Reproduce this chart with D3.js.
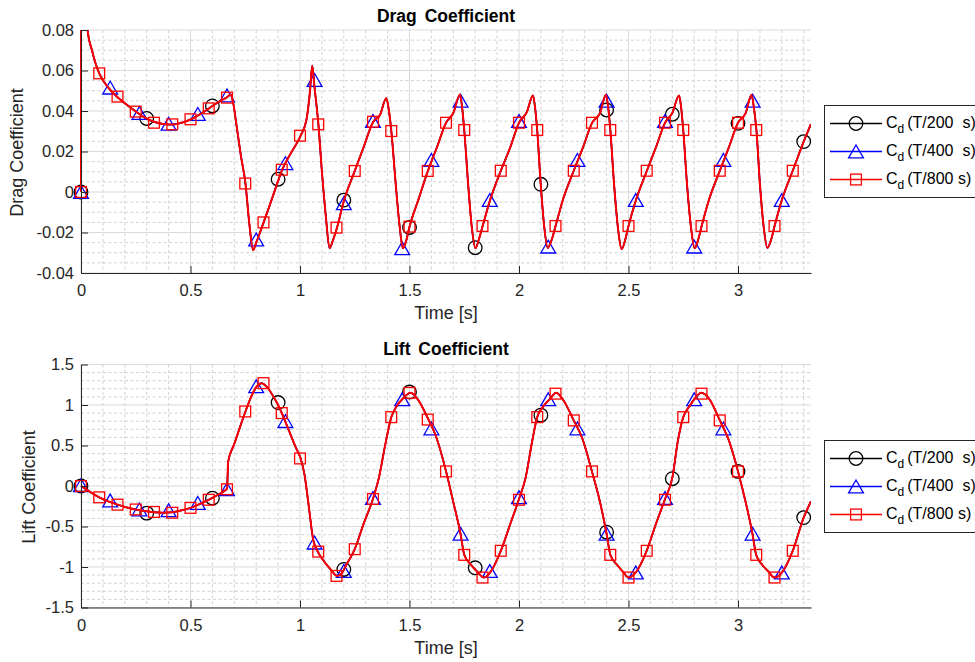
<!DOCTYPE html>
<html>
<head>
<meta charset="utf-8">
<script src="https://cdn.jsdelivr.net/npm/d3@7"></script>
<style>
  body { margin: 0; background: #ffffff; }
  svg  { display: block; font-family: "Liberation Sans", Arial, Helvetica, sans-serif; }
</style>
</head>
<body>
<svg id="fig" width="975" height="662"></svg>
<script>
// ---------- data ----------
const xTickVals   = [0, 0.5, 1, 1.5, 2, 2.5, 3];
const xTickLabels = ["0", "0.5", "1", "1.5", "2", "2.5", "3"];

const cdTickVals   = [-0.04, -0.02, 0, 0.02, 0.04, 0.06, 0.08];
const cdTickLabels = ["-0.04", "-0.02", "0", "0.02", "0.04", "0.06", "0.08"];
const clTickVals   = [-1.5, -1, -0.5, 0, 0.5, 1, 1.5];
const clTickLabels = ["-1.5", "-1", "-0.5", "0", "0.5", "1", "1.5"];

const seriesNames = ["(T/200  s)", "(T/400  s)", "(T/800 s)"];

// drag coefficient time history (curve vertices)
const cdLineT = [0, 0.001, 0.008, 0.018, 0.03, 0.05, 0.065, 0.083, 0.125, 0.167, 0.21, 0.25, 0.29, 0.333, 0.375, 0.417, 0.46, 0.5, 0.54, 0.583, 0.625, 0.667, 0.684, 0.695, 0.71, 0.73, 0.751, 0.768, 0.786, 0.8, 0.834, 0.87, 0.9, 0.918, 0.96, 1.003, 1.03, 1.045, 1.056, 1.066, 1.084, 1.1, 1.118, 1.135, 1.15, 1.169, 1.2, 1.25, 1.29, 1.334, 1.365, 1.394, 1.405, 1.417, 1.437, 1.455, 1.47, 1.485, 1.5, 1.54, 1.584, 1.625, 1.667, 1.7, 1.731, 1.74, 1.75, 1.767, 1.785, 1.801, 1.815, 1.834, 1.868, 1.917, 1.96, 2.0, 2.035, 2.064, 2.073, 2.083, 2.099, 2.116, 2.131, 2.148, 2.167, 2.2, 2.25, 2.292, 2.334, 2.37, 2.397, 2.407, 2.417, 2.434, 2.452, 2.469, 2.484, 2.5, 2.534, 2.584, 2.625, 2.667, 2.7, 2.731, 2.74, 2.75, 2.767, 2.786, 2.802, 2.817, 2.834, 2.867, 2.917, 2.958, 3.0, 3.035, 3.062, 3.072, 3.084, 3.1, 3.118, 3.134, 3.15, 3.167, 3.2, 3.25, 3.3, 3.333];
const cdLineV = [0, 0.25, 0.14, 0.10, 0.08, 0.070, 0.064, 0.0586, 0.0515, 0.0468, 0.0430, 0.0398, 0.0368, 0.0347, 0.0336, 0.0333, 0.0342, 0.0358, 0.0382, 0.0412, 0.0443, 0.0468, 0.0482, 0.044, 0.033, 0.018, 0.0042, -0.015, -0.0287, -0.025, -0.015, -0.004, 0.0055, 0.0108, 0.0195, 0.0278, 0.036, 0.049, 0.0624, 0.052, 0.0334, 0.010, -0.012, -0.0278, -0.024, -0.0176, -0.0045, 0.0104, 0.022, 0.0346, 0.038, 0.0463, 0.041, 0.0301, 0.004, -0.017, -0.0278, -0.024, -0.0172, -0.004, 0.0104, 0.022, 0.0342, 0.039, 0.0482, 0.042, 0.0306, 0.005, -0.018, -0.0278, -0.024, -0.0168, -0.004, 0.0105, 0.022, 0.0342, 0.0393, 0.0476, 0.042, 0.0306, 0.004, -0.018, -0.0276, -0.024, -0.0168, -0.004, 0.0105, 0.022, 0.0342, 0.039, 0.048, 0.042, 0.0306, 0.004, -0.018, -0.0282, -0.024, -0.0168, -0.004, 0.0105, 0.022, 0.0342, 0.039, 0.0476, 0.042, 0.0306, 0.004, -0.018, -0.0278, -0.024, -0.0168, -0.004, 0.0105, 0.022, 0.0342, 0.039, 0.048, 0.042, 0.0306, 0.004, -0.018, -0.0276, -0.024, -0.0168, -0.004, 0.0105, 0.0249, 0.0335];

// lift coefficient time history (curve vertices)
const clLineT = [0, 0.04, 0.083, 0.125, 0.167, 0.21, 0.25, 0.29, 0.333, 0.375, 0.417, 0.46, 0.5, 0.54, 0.583, 0.625, 0.655, 0.667, 0.672, 0.7, 0.725, 0.751, 0.78, 0.8, 0.825, 0.85, 0.875, 0.9, 0.917, 0.95, 0.98, 1.003, 1.02, 1.04, 1.06, 1.083, 1.11, 1.14, 1.17, 1.19, 1.21, 1.25, 1.29, 1.333, 1.36, 1.39, 1.417, 1.44, 1.47, 1.505, 1.54, 1.583, 1.62, 1.667, 1.7, 1.733, 1.75, 1.78, 1.81, 1.84, 1.87, 1.917, 1.96, 2.0, 2.03, 2.06, 2.083, 2.11, 2.14, 2.17, 2.2, 2.25, 2.29, 2.333, 2.37, 2.4, 2.417, 2.45, 2.475, 2.5, 2.535, 2.583, 2.625, 2.667, 2.7, 2.725, 2.75, 2.78, 2.8, 2.833, 2.87, 2.917, 2.96, 3.0, 3.035, 3.066, 3.083, 3.11, 3.14, 3.167, 3.2, 3.25, 3.3, 3.333];
const clLineV = [0, -0.07, -0.14, -0.19, -0.23, -0.265, -0.29, -0.31, -0.325, -0.33, -0.325, -0.30, -0.27, -0.225, -0.17, -0.11, -0.06, -0.03, 0.30, 0.52, 0.72, 0.92, 1.12, 1.22, 1.27, 1.22, 1.12, 1.00, 0.90, 0.68, 0.48, 0.34, 0.15, -0.25, -0.66, -0.82, -0.93, -1.03, -1.11, -1.08, -0.98, -0.78, -0.47, -0.16, 0.10, 0.52, 0.85, 0.98, 1.08, 1.15, 1.06, 0.84, 0.62, 0.18, -0.20, -0.59, -0.85, -0.97, -1.06, -1.13, -1.06, -0.80, -0.47, -0.16, 0.10, 0.55, 0.85, 0.98, 1.07, 1.15, 1.07, 0.81, 0.58, 0.18, -0.20, -0.59, -0.85, -0.98, -1.06, -1.13, -1.06, -0.80, -0.47, -0.16, 0.10, 0.55, 0.85, 0.99, 1.07, 1.15, 1.07, 0.81, 0.55, 0.18, -0.20, -0.59, -0.85, -0.97, -1.06, -1.13, -1.07, -0.80, -0.39, -0.19];

// marker sample times of each time step
const t200 = [0, 0.3, 0.6, 0.9, 1.2, 1.5, 1.8, 2.1, 2.4, 2.7, 3.0, 3.3];
const t400 = [0, 0.1333, 0.2667, 0.4, 0.5333, 0.6667, 0.8, 0.9333, 1.0667, 1.2, 1.3333, 1.4667, 1.6, 1.7333, 1.8667, 2.0, 2.1333, 2.2667, 2.4, 2.5333, 2.6667, 2.8, 2.9333, 3.0667, 3.2];
const t800 = [0, 0.0833, 0.1667, 0.25, 0.3333, 0.4167, 0.5, 0.5833, 0.6667, 0.75, 0.8333, 0.9167, 1.0, 1.0833, 1.1667, 1.25, 1.3333, 1.4167, 1.5, 1.5833, 1.6667, 1.75, 1.8333, 1.9167, 2.0, 2.0833, 2.1667, 2.25, 2.3333, 2.4167, 2.5, 2.5833, 2.6667, 2.75, 2.8333, 2.9167, 3.0, 3.0833, 3.1667, 3.25];

// drag marker values
const cd200 = [0, 0.0363, 0.0425, 0.0063, -0.0040, -0.0175, -0.0275, 0.0038, 0.0405, 0.0384, 0.0339, 0.0249];
const cd400 = [0, 0.0515, 0.0390, 0.0337, 0.0385, 0.0476, -0.0235, 0.0142, 0.0553, -0.0056, 0.0350, -0.0278, 0.0158, 0.0450, -0.0040, 0.0350, -0.0270, 0.0158, 0.0450, -0.0040, 0.0350, -0.0270, 0.0158, 0.0450, -0.0040];
const cd800 = [0, 0.0586, 0.0471, 0.0397, 0.0342, 0.0334, 0.0359, 0.0413, 0.0466, 0.0042, -0.0150, 0.0110, 0.0278, 0.0334, -0.0176, 0.0104, 0.0347, 0.0301, -0.0171, 0.0104, 0.0342, 0.0306, -0.0168, 0.0105, 0.0342, 0.0306, -0.0168, 0.0105, 0.0342, 0.0306, -0.0168, 0.0105, 0.0342, 0.0306, -0.0168, 0.0105, 0.0342, 0.0306, -0.0168, 0.0105];

// lift marker values
const cl200 = [0, -0.335, -0.15, 1.03, -1.03, 1.16, -1.01, 0.875, -0.57, 0.09, 0.18, -0.39];
const cl400 = [0.01, -0.18, -0.29, -0.30, -0.21, -0.04, 1.23, 0.80, -0.70, -1.05, -0.15, 1.07, 0.71, -0.59, -1.05, -0.14, 1.07, 0.71, -0.59, -1.07, -0.15, 1.07, 0.71, -0.59, -1.07];
const cl800 = [0, -0.14, -0.23, -0.29, -0.32, -0.33, -0.27, -0.17, -0.04, 0.92, 1.27, 0.90, 0.34, -0.81, -1.11, -0.78, -0.16, 0.85, 1.15, 0.82, 0.18, -0.85, -1.13, -0.80, -0.17, 0.85, 1.14, 0.81, 0.18, -0.85, -1.13, -0.80, -0.17, 0.85, 1.14, 0.81, 0.18, -0.85, -1.13, -0.80];

// ---------- layout ----------
const axisCol = "#262626";
const seriesCol = ["#000000", "#0000ff", "#ff0000"];
const seriesLW  = [1.5, 1.5, 2];
const markerT   = [t200, t400, t800];

const x = d3.scaleLinear().domain([0, 3.3333]).range([81, 811]);
const svg = d3.select("#fig");

const panels = [
	{ id: "cd", top: 30, bottom: 273, dom: [-0.04, 0.08], minorStep: 0.005, nMinor: 25,
	  ticks: cdTickVals, labels: cdTickLabels, lineT: cdLineT, lineV: cdLineV,
	  marks: [cd200, cd400, cd800], title: "Drag Coefficient", ylab: "Drag Coefficient",
	  ylabX: 23, titleY: 22, legTop: 105.5 },
	{ id: "cl", top: 364.5, bottom: 607.5, dom: [-1.5, 1.5], minorStep: 0.1, nMinor: 31,
	  ticks: clTickVals, labels: clTickLabels, lineT: clLineT, lineV: clLineV,
	  marks: [cl200, cl400, cl800], title: "Lift Coefficient", ylab: "Lift Coefficient",
	  ylabX: 35, titleY: 355, legTop: 440.5 }
];

function drawMarker(sel, k, cx, cy){
	// k: 0 circle, 1 triangle, 2 square
	if(k == 0){
		sel.append("circle").attr("cx", cx).attr("cy", cy).attr("r", 6.8);
	}else if(k == 1){
		sel.append("path")
			.attr("d", "M" + cx + "," + (cy - 6.5) + "L" + (cx + 7.4) + "," + (cy + 6.3) + "L" + (cx - 7.4) + "," + (cy + 6.3) + "Z");
	}else{
		sel.append("rect").attr("x", cx - 5.4).attr("y", cy - 5.4).attr("width", 10.8).attr("height", 10.8);
	}
}

panels.forEach(function(p){
	const y = d3.scaleLinear().domain(p.dom).range([p.bottom, p.top]);
	const g = svg.append("g").attr("class", "panel-" + p.id);

	// minor grid (dashed)
	const xMinor = d3.range(0, 34).filter(i => i % 5 != 0).map(i => i * 0.1);
	const yMinor = d3.range(0, p.nMinor).map(i => p.dom[0] + i * p.minorStep)
						.filter(v => !p.ticks.some(t => Math.abs(t - v) < 1e-9));
	const gridG = g.append("g").attr("class", "grid");
	gridG.selectAll(".xmin").data(xMinor).enter().append("line")
		.attr("x1", d => x(d)).attr("x2", d => x(d)).attr("y1", p.top).attr("y2", p.bottom)
		.attr("stroke", "#bfbfbf").attr("stroke-width", 0.7).attr("stroke-dasharray", "3,2.5");
	gridG.selectAll(".ymin").data(yMinor).enter().append("line")
		.attr("x1", 81).attr("x2", 811).attr("y1", d => y(d)).attr("y2", d => y(d))
		.attr("stroke", "#bfbfbf").attr("stroke-width", 0.7).attr("stroke-dasharray", "3,2.5");
	// major grid (solid)
	gridG.selectAll(".xmaj").data(xTickVals).enter().append("line")
		.attr("x1", d => x(d)).attr("x2", d => x(d)).attr("y1", p.top).attr("y2", p.bottom)
		.attr("stroke", "#dadada").attr("stroke-width", 1);
	gridG.selectAll(".ymaj").data(p.ticks).enter().append("line")
		.attr("x1", 81).attr("x2", 811).attr("y1", d => y(d)).attr("y2", d => y(d))
		.attr("stroke", "#dadada").attr("stroke-width", 1);

	// clip for the lines
	svg.append("clipPath").attr("id", "clip-" + p.id)
		.append("rect").attr("x", 80).attr("y", p.top).attr("width", 731).attr("height", p.bottom - p.top);

	const line = d3.line()
		.x(i => x(p.lineT[i]))
		.y(i => y(p.lineV[i]))
		.curve(d3.curveMonotoneX);
	const idx = d3.range(p.lineT.length);

	[0, 1, 2].forEach(function(k){
		g.append("path")
			.attr("d", line(idx))
			.attr("fill", "none")
			.attr("stroke", seriesCol[k])
			.attr("stroke-width", seriesLW[k])
			.attr("stroke-linejoin", "round")
			.attr("clip-path", "url(#clip-" + p.id + ")");
		const mg = g.append("g")
			.attr("fill", "none")
			.attr("stroke", seriesCol[k])
			.attr("stroke-width", 1.3);
		markerT[k].forEach(function(t, j){
			drawMarker(mg, k, x(t), y(p.marks[k][j]));
		});
	});

	// axes
	const xAxis = d3.axisBottom(x)
		.tickValues(xTickVals)
		.tickFormat((d, i) => xTickLabels[i])
		.tickSizeInner(-7).tickSizeOuter(0).tickPadding(11.5);
	const yAxis = d3.axisLeft(y)
		.tickValues(p.ticks)
		.tickFormat((d, i) => p.labels[i])
		.tickSizeInner(-7).tickSizeOuter(0).tickPadding(7);

	const gx = g.append("g").attr("transform", "translate(0," + p.bottom + ")").call(xAxis);
	const gy = g.append("g").attr("transform", "translate(81,0)").call(yAxis);
	[gx, gy].forEach(function(ax){
		ax.attr("font-family", null).attr("font-size", null);
		ax.select(".domain").attr("stroke", axisCol);
		ax.selectAll(".tick line").attr("stroke", axisCol);
		ax.selectAll(".tick text").attr("fill", axisCol).style("font-size", "16.5px");
	});

	// labels and title
	g.append("text")
		.attr("x", 446).attr("y", p.titleY)
		.attr("text-anchor", "middle")
		.style("font-size", "17.5px").style("font-weight", "bold").style("word-spacing", "3px")
		.attr("fill", "#000")
		.text(p.title);
	g.append("text")
		.attr("x", 446).attr("y", p.bottom + 46)
		.attr("text-anchor", "middle")
		.style("font-size", "18px")
		.attr("fill", axisCol)
		.text("Time [s]");
	g.append("text")
		.attr("transform", "translate(" + p.ylabX + "," + ((p.top + p.bottom) / 2 + 1) + ") rotate(-90)")
		.attr("text-anchor", "middle")
		.style("font-size", "18px")
		.attr("fill", axisCol)
		.text(p.ylab);

	// legend
	const leg = g.append("g").attr("class", "legend");
	leg.append("rect")
		.attr("x", 824.5).attr("y", p.legTop)
		.attr("width", 200).attr("height", 92)
		.attr("fill", "#fff").attr("stroke", axisCol).attr("stroke-width", 1);
	[0, 1, 2].forEach(function(k){
		const ly = p.legTop + 18 + k * 28;
		leg.append("line")
			.attr("x1", 830).attr("x2", 882).attr("y1", ly).attr("y2", ly)
			.attr("stroke", seriesCol[k]).attr("stroke-width", 1.5);
		const lm = leg.append("g").attr("fill", "none").attr("stroke", seriesCol[k]).attr("stroke-width", 1.3);
		drawMarker(lm, k, 856, ly);
		const tx = leg.append("text")
			.attr("x", 886).attr("y", ly + 4)
			.style("font-size", "16px")
			.style("white-space", "pre")
			.attr("fill", "#000");
		tx.append("tspan").text("C");
		tx.append("tspan").attr("dy", 5).style("font-size", "12px").text("d");
		tx.append("tspan").attr("dy", -5).attr("dx", 3).text(seriesNames[k]);
	});
});
</script>
</body>
</html>
